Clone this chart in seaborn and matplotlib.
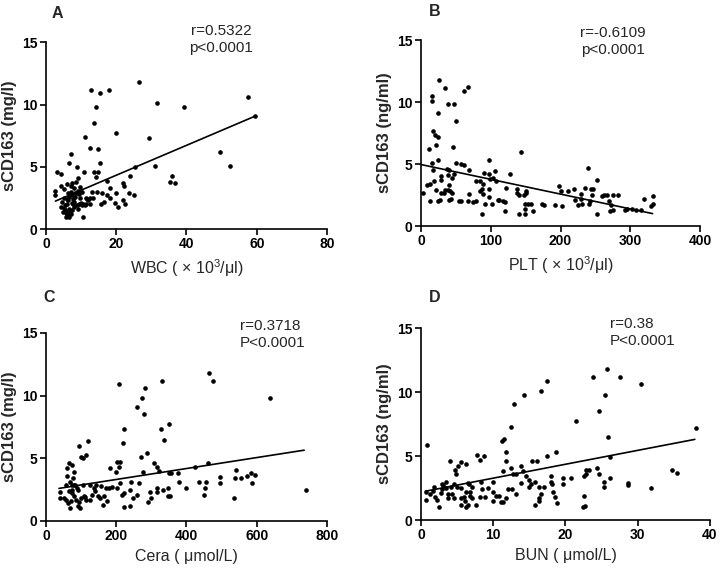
import matplotlib
matplotlib.use("Agg")
import matplotlib.pyplot as plt
import seaborn as sns

sns.set_theme(style="ticks")
plt.rcParams['font.family'] = ['Liberation Sans', 'DejaVu Sans']
plt.rcParams['mathtext.fontset'] = 'custom'
plt.rcParams['mathtext.rm'] = 'Liberation Sans'
plt.rcParams['mathtext.it'] = 'Liberation Sans:italic'
plt.rcParams['mathtext.bf'] = 'Liberation Sans:bold'

# ---- data ----
# A: WBC vs sCD163
wbc = [26.6, 12.8, 17.9, 15.4, 14.3, 31.7, 39.2, 57.6, 59.4, 13.6, 19.9, 11.1, 29.2,
       12.6, 14.8, 49.4, 52.4, 30.9, 7.1, 15.3, 6.5, 8.7, 10.8, 25.2, 3.2, 4.2, 13.6,
       14.9, 35.8, 23.8, 14.1, 35.2, 36.7, 22.3, 22.0, 17.5, 18.1, 19.9, 23.5, 25.0,
       17.3, 15.9, 14.4, 16.5, 18.3, 19.7, 20.4, 21.8, 22.4, 15.8, 12.5, 11.8, 10.4,
       2.7, 2.7,
       5.0, 5.3, 5.6, 5.9, 6.2, 6.5, 6.8, 7.1, 5.5, 6.0, 6.3, 6.6, 6.9, 7.2, 7.5, 7.8,
       8.1, 8.4, 8.7, 9.0, 9.3, 9.6, 10.0, 10.3, 10.6, 7.0, 7.5, 8.0, 8.5, 9.0, 6.0,
       5.0, 4.6, 4.3, 4.8, 5.8, 6.6, 7.4, 8.0, 8.8, 9.5, 11.0, 11.5, 12.0, 12.5, 13.5,
       13.0, 9.8, 6.4, 7.7, 4.4, 5.2, 6.1, 7.3, 8.2, 9.1, 10.2, 11.3]
scd_a = [11.8, 11.2, 11.2, 10.9, 9.8, 10.1, 9.8, 10.6, 9.1, 8.5, 7.7, 7.4, 7.3,
         6.5, 6.4, 6.2, 5.1, 5.1, 6.0, 5.3, 5.3, 5.0, 4.6, 5.0, 4.6, 4.4, 4.6,
         4.6, 4.3, 4.3, 4.2, 3.8, 3.7, 3.5, 3.7, 3.9, 3.3, 2.9, 2.9, 2.7,
         2.7, 2.9, 3.0, 2.2, 2.5, 2.1, 1.8, 2.3, 2.0, 2.0, 2.5, 2.4, 1.0,
         3.1, 2.7,
         1.7, 1.5, 1.3, 1.1, 1.4, 1.6, 1.3, 1.2, 1.9, 2.0, 2.3, 2.6, 2.8, 3.0, 2.7, 2.4,
         2.2, 2.6, 2.9, 3.1, 2.8, 2.5, 2.1, 1.9, 2.0, 3.5, 3.7, 3.3, 3.8, 4.1, 3.6,
         2.5, 2.2, 1.8, 1.4, 1.0, 1.0, 1.5, 1.8, 1.9, 2.0, 1.9, 2.5, 2.3, 2.0, 2.5,
         3.0, 3.4, 2.9, 2.0, 3.5, 3.2, 2.4, 2.1, 2.9, 1.6, 3.0, 2.0]

# B: PLT vs sCD163
plt_b = [26, 35, 68, 61, 16, 16, 25, 38, 48, 50, 17, 20, 24, 21, 12, 46, 143, 16, 25,
         50, 61, 58, 69, 97, 127, 37, 40, 47, 17, 29, 39, 44, 28, 19, 13, 9, 40, 29,
         35, 38, 41, 44, 33, 21, 27, 24, 13, 40, 43, 57, 67, 69, 79, 84, 89, 85, 89,
         88, 91, 98, 99, 103, 106, 107, 97, 98, 92, 87, 79, 102, 112, 120, 118, 120,
         122, 138, 138, 141, 140, 148, 150, 151, 149, 153, 149, 149, 157, 161, 173,
         177, 192, 198, 201, 202, 211, 220, 221, 225, 229, 230, 231, 235, 239, 241,
         243, 245, 244, 247, 252, 252, 259, 262, 266, 269, 271, 273, 275, 275, 283,
         293, 296, 302, 308, 316, 320, 332, 333, 330, 3, 55, 75, 110]
scd_b = [11.8, 11.1, 11.2, 10.9, 10.5, 10.1, 9.1, 9.8, 9.8, 8.5, 7.7, 7.3, 7.2, 6.5,
         6.2, 6.4, 6.0, 5.1, 5.3, 5.1, 4.9, 5.0, 4.5, 5.3, 4.2, 4.6, 4.5, 4.2, 4.5,
         4.0, 4.1, 3.9, 3.7, 3.6, 3.4, 3.3, 3.3, 2.7, 2.9, 2.9, 2.8, 2.7, 2.7, 2.9,
         2.1, 2.0, 2.0, 2.1, 2.2, 2.0, 2.0, 2.6, 3.6, 3.6, 3.4, 2.8, 2.6, 3.0, 4.3,
         4.2, 3.8, 3.9, 4.4, 3.6, 3.0, 2.3, 1.8, 1.0, 2.0, 1.8, 2.1, 1.9, 2.0, 1.2,
         3.1, 3.0, 2.7, 2.5, 1.0, 2.5, 2.8, 2.7, 1.8, 1.8, 1.4, 1.0, 1.8, 1.2, 1.8,
         1.7, 1.7, 3.2, 2.8, 1.6, 2.8, 3.0, 2.1, 1.7, 2.2, 2.6, 1.8, 3.1, 4.7, 1.8,
         2.0, 2.5, 3.0, 3.0, 3.7, 1.0, 2.4, 2.5, 2.5, 2.0, 1.2, 1.7, 1.3, 2.5, 2.5,
         1.3, 1.4, 1.4, 1.3, 1.3, 2.2, 1.8, 2.4, 1.6, 2.7, 2.0, 1.9, 2.1]

# C: Cera vs sCD163
cera = [463, 475, 331, 208, 282, 273, 637, 258, 279, 350, 223, 326, 335, 219, 121,
        93, 114, 99, 106, 271, 287, 307, 315, 212, 201, 209, 181, 275, 323, 349, 355,
        425, 436, 455, 462, 495, 496, 538, 541, 555, 572, 583, 586, 595, 534, 452,
        451, 398, 380, 376, 346, 333, 315, 347, 354, 295, 291, 298, 315, 266, 242,
        239, 221, 215, 221, 239, 247, 260, 187, 180, 172, 166, 175, 163, 154, 149,
        156, 143, 137, 130, 124, 115, 108, 101, 93, 98, 85, 80, 74, 74, 68, 80, 87,
        91, 104, 68, 64, 56, 50, 40, 40, 56, 59, 61, 66, 73, 79, 83, 124, 201, 212,
        198, 739, 77, 70, 75, 65, 90, 110, 140]
scd_c = [11.8, 11.2, 11.2, 10.9, 10.6, 9.8, 9.8, 9.1, 8.5, 7.7, 7.3, 7.3, 6.5, 6.2,
         6.4, 6.0, 5.3, 5.1, 5.0, 5.1, 5.4, 4.6, 4.3, 4.7, 4.7, 4.3, 4.2, 3.9, 4.0,
         3.8, 3.8, 4.3, 3.1, 3.1, 4.6, 3.5, 3.0, 3.4, 4.1, 3.4, 3.6, 3.8, 3.0, 3.7,
         1.8, 2.6, 2.1, 2.6, 3.1, 3.8, 2.6, 2.5, 2.6, 2.0, 2.0, 2.3, 1.5, 1.8, 2.3,
         3.0, 3.1, 2.5, 2.2, 2.1, 1.1, 1.2, 1.8, 2.1, 2.7, 2.6, 2.6, 2.0, 1.6, 1.3,
         1.8, 2.0, 2.8, 2.9, 2.6, 2.1, 1.7, 1.7, 2.0, 1.8, 1.5, 1.0, 1.7, 2.0, 2.5,
         2.9, 3.1, 2.9, 2.6, 2.5, 2.9, 1.0, 1.4, 1.7, 1.8, 1.8, 2.3, 2.9, 3.6, 4.2,
         4.6, 4.5, 3.9, 2.9, 2.9, 2.6, 3.0, 3.9, 2.5, 3.4, 1.6, 2.2, 2.4, 1.2, 1.9,
         2.4]

# D: BUN vs sCD163
bun = [25.8, 27.5, 23.8, 17.5, 30.4, 16.6, 25.5, 14.2, 12.9, 24.6, 21.5, 12.5, 38.0,
       25.9, 0.8, 11.5, 11.2, 11.7, 17.4, 18.7, 15.3, 16.1, 7.8, 8.7, 8.2, 11.7, 4.0,
       5.5, 6.2, 5.1, 4.7, 4.9, 26.1, 12.4, 12.7, 13.9, 14.1, 13.1, 11.4, 13.2, 13.8,
       15.0, 15.2, 15.0, 15.8, 16.4, 17.0, 15.8, 16.3, 16.4, 16.6, 18.0, 18.0, 18.1,
       18.3, 18.6, 18.8, 19.6, 19.6, 20.7, 22.6, 22.6, 22.4, 22.7, 22.8, 22.9, 23.3,
       24.3, 24.7, 25.3, 25.3, 26.1, 28.6, 28.7, 31.9, 34.7, 35.4, 9.9, 10.0, 9.9,
       10.4, 10.8, 11.1, 11.4, 11.8, 12.1, 12.6, 8.5, 8.3, 8.2, 8.8, 7.6, 6.8, 6.8,
       7.0, 7.0, 6.7, 6.5, 6.2, 5.9, 6.1, 6.2, 6.5, 5.6, 5.5, 5.6, 5.0, 4.6, 4.2,
       4.3, 4.5, 3.7, 3.7, 3.5, 3.4, 2.9, 2.9, 2.7, 2.5, 2.0, 2.2, 1.6, 0.7, 0.7,
       1.2, 1.8, 3.1, 9.3, 14.6]
scd_d = [11.8, 11.2, 11.2, 10.9, 10.6, 10.1, 9.8, 9.8, 9.1, 8.5, 7.7, 7.3, 7.2,
         6.5, 5.9, 6.3, 6.2, 5.3, 5.0, 5.3, 4.6, 4.6, 5.1, 5.0, 4.7, 4.6, 4.6,
         4.5, 4.4, 4.2, 3.9, 3.6, 4.9, 4.1, 3.6, 4.2, 3.8, 3.6, 3.8, 2.0, 2.9,
         3.1, 2.8, 2.6, 3.0, 2.6, 2.6, 1.2, 1.7, 1.5, 2.0, 3.4, 3.0, 2.8,
         2.2, 1.8, 1.3, 3.3, 2.8, 3.3, 3.4, 1.9, 1.0, 1.1, 3.6, 3.9, 3.9,
         4.1, 3.6, 3.0, 2.6, 3.3, 2.7, 2.9, 2.5, 3.9, 3.7, 3.0, 2.2, 1.5,
         1.9, 1.9, 1.4, 1.4, 1.7, 2.4, 2.4, 2.4, 3.0, 1.8, 1.8, 1.2, 2.2, 1.9,
         1.7, 2.6, 2.8, 2.9, 2.2, 1.8, 1.5, 1.0, 1.2, 1.2, 1.7, 2.5, 2.6, 2.8, 2.6,
         2.0, 1.7, 2.0, 1.7, 2.5, 3.0, 2.8, 2.4, 2.1, 1.0, 1.8, 1.6, 2.3, 2.2, 1.6,
         2.0, 2.6, 2.7, 2.5, 3.4]

# fitted lines (end points)
fit_a_x, fit_a_y = [2.7, 59.4], [2.25, 9.05]
fit_b_x, fit_b_y = [0.5, 332], [4.95, 1.0]
fit_c_x, fit_c_y = [37, 735], [2.6, 5.65]
fit_d_x, fit_d_y = [0.6, 37.9], [2.25, 6.3]

panels = [
    dict(x=wbc, y=scd_a, fx=fit_a_x, fy=fit_a_y, xmax=80, xticks=[0, 20, 40, 60, 80],
         xlabel="WBC ( \u00d7 10$^{3}$/\u03bcl)", ylabel="sCD163 (mg/l)",
         rect=[0.0636, 0.598, 0.3887, 0.328], letter="A", lpos=(57, 13),
         stats=["r=0.5322", "p<0.0001"], spos=(221, 31), ha="center"),
    dict(x=plt_b, y=scd_b, fx=fit_b_x, fy=fit_b_y, xmax=400, xticks=[0, 100, 200, 300, 400],
         xlabel="PLT ( \u00d7 10$^{3}$/\u03bcl)", ylabel="sCD163 (ng/ml)",
         rect=[0.5823, 0.6035, 0.3859, 0.3263], letter="B", lpos=(435, 12),
         stats=["r=-0.6109", "p<0.0001"], spos=(613, 33), ha="center"),
    dict(x=cera, y=scd_c, fx=fit_c_x, fy=fit_c_y, xmax=800, xticks=[0, 200, 400, 600, 800],
         xlabel="Cera ( \u03bcmol/L)", ylabel="sCD163 (mg/l)",
         rect=[0.0636, 0.086, 0.3887, 0.3298], letter="C", lpos=(49, 297),
         stats=["r=0.3718", "P<0.0001"], spos=(240, 326), ha="left"),
    dict(x=bun, y=scd_d, fx=fit_d_x, fy=fit_d_y, xmax=40, xticks=[0, 10, 20, 30, 40],
         xlabel="BUN ( \u03bcmol/L)", ylabel="sCD163 (ng/ml)",
         rect=[0.5823, 0.0877, 0.3997, 0.3368], letter="D", lpos=(435, 297),
         stats=["r=0.38", "P<0.0001"], spos=(610, 324), ha="left"),
]

W, H = 723, 570
fig = plt.figure(figsize=(W / 100, H / 100), dpi=100)

for p in panels:
    ax = fig.add_axes(p["rect"])
    sns.scatterplot(x=p["x"], y=p["y"], ax=ax, color="black", s=11, linewidth=0)
    ax.plot(p["fx"], p["fy"], color="black", linewidth=1.2)
    ax.set_xlim(0, p["xmax"])
    ax.set_ylim(0, 15)
    ax.set_xticks(p["xticks"])
    ax.set_yticks([0, 5, 10, 15])
    ax.tick_params(direction="out", length=4, width=1.2, labelsize=10, pad=2, colors="black")
    plt.setp(ax.get_xticklabels(), fontweight="bold")
    plt.setp(ax.get_yticklabels(), fontweight="bold")
    sns.despine(ax=ax)
    for s in ["left", "bottom"]:
        ax.spines[s].set_linewidth(1.2)
        ax.spines[s].set_color("black")
    ax.set_xlabel(p["xlabel"], fontsize=11.5, labelpad=4)
    ax.set_ylabel(p["ylabel"], fontsize=12, fontweight="bold", labelpad=4)
    lx, ly = p["lpos"]
    fig.text(lx / W, 1 - ly / H, p["letter"], fontsize=11.5, fontweight="bold",
             ha="center", va="center")
    sx, sy = p["spos"]
    fig.text(sx / W, 1 - sy / H, p["stats"][0], fontsize=11, ha=p["ha"], va="center")
    fig.text(sx / W, 1 - (sy + 17) / H, p["stats"][1], fontsize=11, ha=p["ha"], va="center")

fig.savefig("out.png", dpi=100, facecolor="white")
